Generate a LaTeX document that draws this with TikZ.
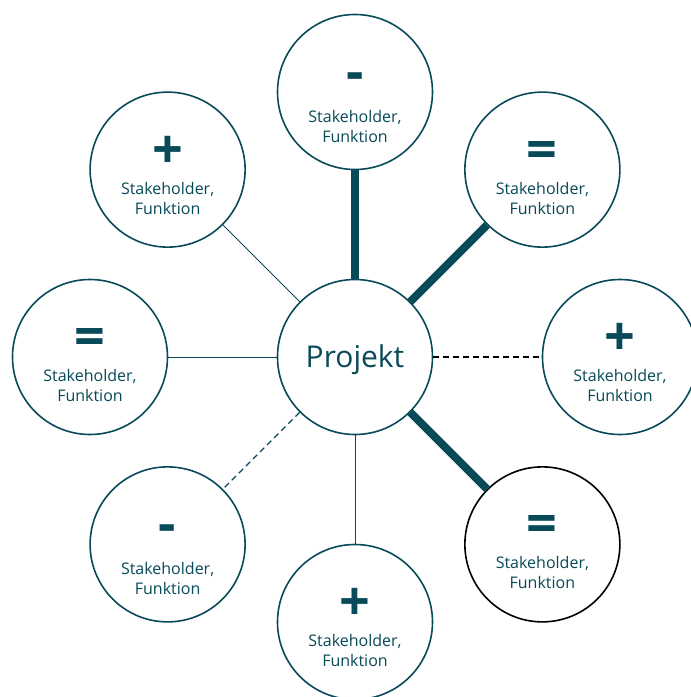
\documentclass[tikz,border=0pt]{standalone}
\usepackage{fontspec}
\setmainfont{Open Sans}
\usetikzlibrary{positioning}
\definecolor{projteal}{RGB}{8,74,88}

% rating sign above the label; the strut height sets where the block sits
\newcommand{\rating}[2][43pt]{{\fontsize{54}{54}\selectfont\bfseries\rule{0pt}{#1}#2}\\[6pt]}
\newcommand{\minussign}{\rating[55pt]{\raisebox{6pt}{-}}}

\begin{document}
\begin{tikzpicture}[
    x=1pt, y=1pt,
    every node/.style={text=projteal},
    hub/.style={circle, draw=projteal, line width=1.6pt, fill=white, minimum size=155pt, inner sep=0pt, text depth=2pt, font=\fontsize{30}{34}\selectfont},
    stake/.style={circle, draw=projteal, line width=1.6pt, fill=white, minimum size=155pt, inner sep=0pt, align=center, font=\fontsize{16}{20}\selectfont},
    strong/.style={draw=projteal, line width=8pt},
    weak/.style={draw=projteal, line width=0.9pt},
    tense/.style={dash pattern=on 6pt off 4pt, line width=1.3pt}
]
\useasboundingbox (-355,-340) rectangle (336,357);

\node[hub] (proj) at (0,0) {Projekt};

\node[stake] (shN)  at (90:265)   {\minussign Stakeholder,\\Funktion};
\node[stake] (shNE) at (45:265)   {\rating{=}Stakeholder,\\Funktion};
\node[stake] (shE)  at (0:265)    {\rating{+}Stakeholder,\\Funktion};
\node[stake, draw=black] (shSE) at (-45:265) {\rating{=}Stakeholder,\\Funktion};
\node[stake] (shS)  at (-90:265)  {\rating{+}Stakeholder,\\Funktion};
\node[stake] (shSW) at (-135:265) {\minussign Stakeholder,\\Funktion};
\node[stake] (shW)  at (180:265)  {\rating{=}Stakeholder,\\Funktion};
\node[stake] (shNW) at (135:265)  {\rating{+}Stakeholder,\\Funktion};

% relations
\draw[strong] (proj) -- (shN);
\draw[strong] (proj) -- (shNE);
\draw[tense, black] (proj) -- (shE);
\draw[strong] (proj) -- (shSE);
\draw[weak] (proj) -- (shS);
\draw[tense, projteal] (proj) -- (shSW);
\draw[weak] (proj) -- (shW);
\draw[weak] (proj) -- (shNW);
\end{tikzpicture}
\end{document}
